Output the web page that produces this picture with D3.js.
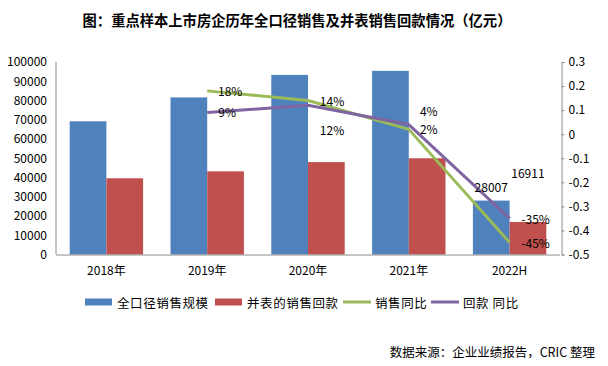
<!DOCTYPE html>
<html><head><meta charset="utf-8">
<script src="https://cdn.jsdelivr.net/npm/d3@7"></script>
<style>
html,body{margin:0;padding:0;background:#fff;}
text{font-family:"Noto Sans CJK SC","DejaVu Sans",sans-serif;fill:#000;}
</style></head>
<body><svg id="c" width="608" height="366"></svg>
<script>
const categories = ["2018年","2019年","2020年","2021年","2022H"];
const salesScale = [69200, 81600, 93300, 95400, 28007];
const consolidatedPayback = [39600, 43200, 48000, 50000, 16911];
const salesYoY = [null, 0.18, 0.14, 0.02, -0.45];
const paybackYoY = [null, 0.09, 0.12, 0.04, -0.35];
const salesYoYLabels = [null, "18%", "14%", "2%", "-45%"];
const paybackYoYLabels = [null, "9%", "12%", "4%", "-35%"];
const leftTicks = [0,10000,20000,30000,40000,50000,60000,70000,80000,90000,100000];
const rightTicks = [0.3,0.2,0.1,0,-0.1,-0.2,-0.3,-0.4,-0.5];
const seriesNames = ["全口径销售规模","并表的销售回款","销售同比","回款 同比"];
const title = "图：重点样本上市房企历年全口径销售及并表销售回款情况（亿元）";
const source = "数据来源：企业业绩报告，CRIC 整理";

const colors = {sales:"#4F81BD", pay:"#C0504D", sy:"#9BBB59", py:"#8064A2"};
const svg = d3.select("#c");
const L = 56, R = 560, T = 62, B = 254.5;

const x = d3.scaleBand().domain(categories).range([L, R]).padding(0);
const x1 = d3.scaleBand().domain(["sales","pay"]).range([0, x.bandwidth()]).paddingInner(0).paddingOuter(0.373);
const yL = d3.scaleLinear().domain([0, 100000]).range([B, T]);
const yR = d3.scaleLinear().domain([-0.5, 0.3]).range([B, T]);

// title
svg.append("text").attr("x", 297).attr("y", 26).attr("text-anchor","middle")
  .style("font-size","14.3px").style("font-weight","bold").text(title);

// bars
const rows = categories.map((c,i)=>({c, sales:salesScale[i], pay:consolidatedPayback[i]}));
const g = svg.append("g");
["sales","pay"].forEach(k=>{
  g.selectAll("rect."+k).data(rows).enter().append("rect")
    .attr("x", d=>x(d.c)+x1(k)).attr("width", x1.bandwidth())
    .attr("y", d=>yL(d[k])).attr("height", d=>B - yL(d[k]))
    .attr("fill", colors[k]);
});

// axes
const axisColor = "#8c8c8c";
svg.append("line").attr("x1",L).attr("x2",L).attr("y1",T).attr("y2",B).attr("stroke",axisColor);
svg.append("line").attr("x1",L).attr("x2",R).attr("y1",B+0.5).attr("y2",B+0.5).attr("stroke",axisColor);
const la = svg.append("g").attr("transform",`translate(${L},0)`)
  .call(d3.axisLeft(yL).tickValues(leftTicks).tickSize(0).tickPadding(9).tickFormat(d3.format("d")));
la.select(".domain").remove();
la.selectAll("text").style("font-size","12px").style("font-family",'"Noto Sans CJK SC",sans-serif').attr("fill","#000");
const ra = svg.append("g").attr("transform",`translate(${R+1.5},0)`)
  .call(d3.axisRight(yR).tickValues(rightTicks).tickSize(3).tickPadding(4).tickFormat(d=>d===0?"0":String(d)));
ra.select(".domain").attr("stroke",axisColor);
ra.selectAll(".tick line").attr("stroke",axisColor);
ra.selectAll("text").style("font-size","12px").style("font-family",'"Noto Sans CJK SC",sans-serif').attr("fill","#000");
const ba = svg.append("g").attr("transform",`translate(0,${B})`)
  .call(d3.axisBottom(x).tickSize(0).tickPadding(12));
ba.select(".domain").remove();
ba.selectAll("text").style("font-size","12px").style("font-family",'"Noto Sans CJK SC",sans-serif').attr("fill","#000");

// lines
const cx = c => x(c) + x.bandwidth()/2;
function drawLine(vals, color){
  const pts = categories.map((c,i)=>({c, v:vals[i]})).filter(d=>d.v!==null);
  svg.append("path").datum(pts)
    .attr("d", d3.line().x(d=>cx(d.c)).y(d=>yR(d.v)))
    .attr("fill","none").attr("stroke",color).attr("stroke-width",3).attr("stroke-linejoin","round");
}
drawLine(salesYoY, colors.sy);
drawLine(paybackYoY, colors.py);

// data labels (offset from point)
const salesLabelOffsets = [null,[23,0],[24,0],[20,-1],[26,0]];
const payLabelOffsets = [null,[20,-1],[24,24],[20,-14],[26,0]];
function drawLabels(vals, labels, offs){
  categories.forEach((c,i)=>{
    if(vals[i]===null) return;
    svg.append("text").attr("x", cx(c)+offs[i][0]).attr("y", yR(vals[i])+offs[i][1])
      .attr("text-anchor","middle").attr("dominant-baseline","central")
      .style("font-size","12px").text(labels[i]);
  });
}
drawLabels(salesYoY, salesYoYLabels, salesLabelOffsets);
drawLabels(paybackYoY, paybackYoYLabels, payLabelOffsets);

// bar value labels for 2022H
const last = categories.length-1;
svg.append("text").attr("x", x(categories[last])+x1("sales")+x1.bandwidth()/2)
  .attr("y", yL(salesScale[last])-14).attr("text-anchor","middle").attr("dominant-baseline","central")
  .style("font-size","12px").text(String(salesScale[last]));
svg.append("text").attr("x", x(categories[last])+x1("pay")+x1.bandwidth()/2)
  .attr("y", yL(consolidatedPayback[last])-49).attr("text-anchor","middle").attr("dominant-baseline","central")
  .style("font-size","12px").text(String(consolidatedPayback[last]));

// legend
const ly = 302;
const lg = svg.append("g");
const legendItems = [
  {name:seriesNames[0], color:colors.sales, type:"rect", x:85},
  {name:seriesNames[1], color:colors.pay, type:"rect", x:215},
  {name:seriesNames[2], color:colors.sy, type:"line", x:343},
  {name:seriesNames[3], color:colors.py, type:"line", x:431}
];
legendItems.forEach(it=>{
  if(it.type==="rect"){
    lg.append("rect").attr("x",it.x).attr("y",ly-3.5).attr("width",27).attr("height",7).attr("fill",it.color);
  } else {
    lg.append("line").attr("x1",it.x).attr("x2",it.x+28).attr("y1",ly).attr("y2",ly).attr("stroke",it.color).attr("stroke-width",3);
  }
  lg.append("text").attr("x",it.x+32).attr("y",ly).attr("dominant-baseline","central")
    .style("font-size","12.5px").style("letter-spacing","0.6px").text(it.name);
});

// source
svg.append("text").attr("x",595).attr("y",351).attr("text-anchor","end").attr("dominant-baseline","central")
  .style("font-size","12.5px").text(source);
</script>
</body></html>
